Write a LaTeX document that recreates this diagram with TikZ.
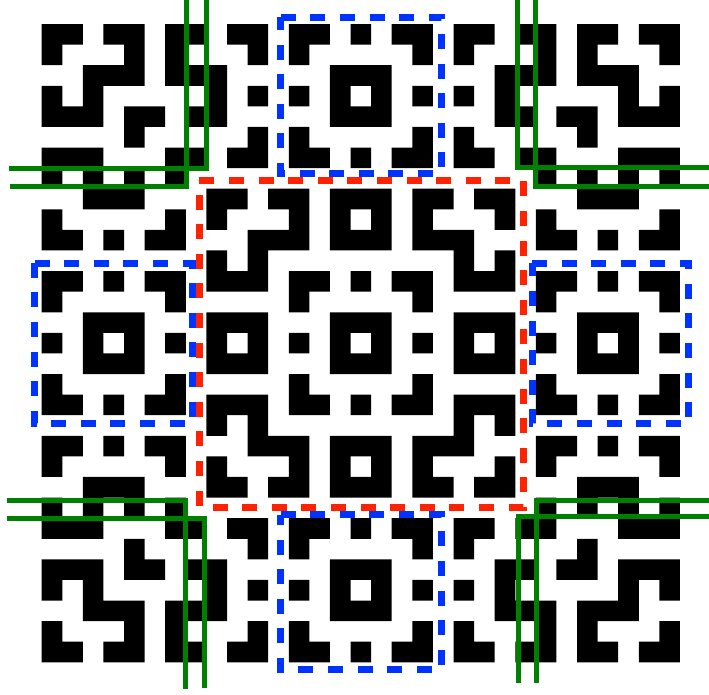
\documentclass[tikz,border=0pt]{standalone}
\definecolor{redline}{RGB}{255,34,0}
\definecolor{blueline}{RGB}{0,51,255}
\definecolor{greenline}{RGB}{0,128,0}
\begin{document}
\begin{tikzpicture}[x=1pt,y=-1pt,
  cellfill/.style={fill=black},
  redbox/.style={draw=redline, line width=7pt, dash pattern=on 15pt off 14.6pt},
  bluebox/.style={draw=blueline, line width=7pt, dash pattern=on 15pt off 14.6pt},
  greenl/.style={draw=greenline, line width=5pt, line join=miter}]
\useasboundingbox (0,0) rectangle (709,694);
\fill[white] (0,0) rectangle (709,694);
% pattern: 31x31 cells, D4-symmetric; quadrant rows 0..15, listed columns are black
\path[cellfill] foreach \cl [count=\r from 0] in {
  {0,1,3,4,6,7,9,10,12,13,15},
  {0,4,6,10,12},
  {2,3,4,6,7,8,14,15},
  {0,2,8,10,12,14},
  {0,1,2,4,5,7,8,14,15},
  {4,10,12},
  {0,1,2,6,7,9,10,12,13,15},
  {0,2,4,6},
  {2,3,4,8,9,11,12,14,15},
  {0,6,8,12,14},
  {0,1,3,5,6,10,11,12,14,15},
  {8,10},
  {0,1,3,5,6,8,9,10,12,13,15},
  {0,6,12},
  {2,3,4,8,9,10,14,15},
  {0,2,4,6,8,10,12,14}}
  { foreach \c in \cl {
     ({41.7+\c*20.59},{24+\r*20.59}) rectangle ++(20.59,20.59)
     ({41.7+(30-\c)*20.59},{24+\r*20.59}) rectangle ++(20.59,20.59)
     ({41.7+\c*20.59},{24+(30-\r)*20.59}) rectangle ++(20.59,20.59)
     ({41.7+(30-\c)*20.59},{24+(30-\r)*20.59}) rectangle ++(20.59,20.59)
  } };
% green corner lines
\draw[greenl] (10,186.3) -- (186.8,186.3) -- (186.8,0);
\draw[greenl] (9,168.8) -- (206.8,168.8) -- (206.8,0);
\draw[greenl] (517.8,0) -- (517.8,167) -- (709,167);
\draw[greenl] (535.9,0) -- (535.9,186) -- (709,186);
\draw[greenl] (6.7,500) -- (185.4,500) -- (185.4,689.3);
\draw[greenl] (6.7,518) -- (204.8,518) -- (204.8,688.3);
\draw[greenl] (709,500.5) -- (536,500.5) -- (536,682.7);
\draw[greenl] (709,516.8) -- (518.2,516.8) -- (518.2,682.7);
% red dashed box
\draw[redbox] (199.3,180) -- (523.5,180) -- (523.5,507) -- (199.3,507) -- cycle;
% blue dashed boxes
\draw[bluebox] (280.7,17) -- (441.3,17) -- (441.3,173.7) -- (280.7,173.7) -- cycle;
\draw[bluebox] (280.5,514.5) -- (441.3,514.5) -- (441.3,669.7) -- (280.5,669.7) -- cycle;
\draw[bluebox] (34.5,263) -- (192,263) -- (192,423.7) -- (34.5,423.7) -- cycle;
\draw[bluebox] (532,263) -- (688.8,263) -- (688.8,423.7) -- (532,423.7) -- cycle;
\end{tikzpicture}
\end{document}
